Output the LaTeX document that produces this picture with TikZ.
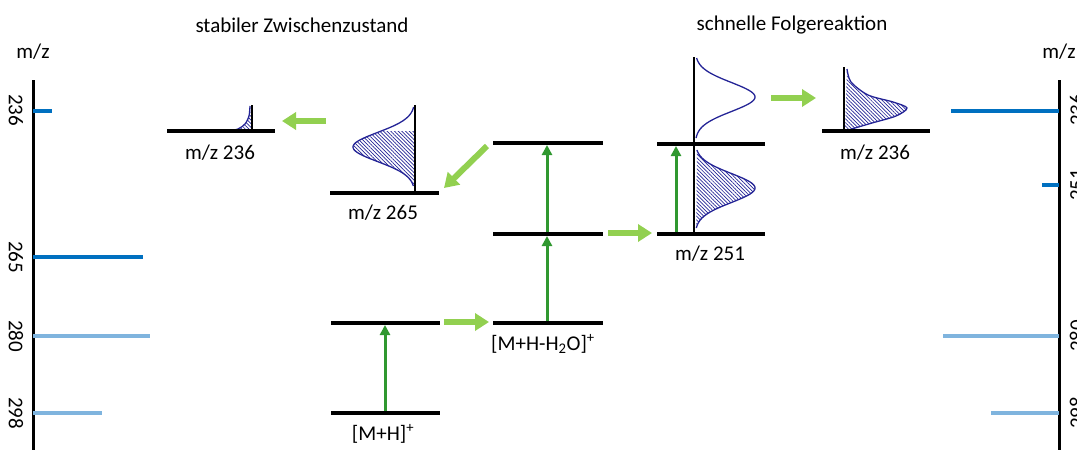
\documentclass[tikz,border=0pt]{standalone}
\usepackage{fontspec}
\setmainfont{Carlito}
\usetikzlibrary{arrows.meta,patterns.meta}
\definecolor{lgreen}{RGB}{146,208,80}
\definecolor{dgreen}{RGB}{48,152,48}
\definecolor{dblue}{RGB}{0,112,192}
\definecolor{lblue}{RGB}{127,180,222}
\definecolor{curvec}{RGB}{36,36,150}
\begin{document}
\begin{tikzpicture}[x=1pt,y=-1pt,
  font=\fontsize{21}{25}\selectfont,
  level/.style={line width=4pt},
  axisline/.style={line width=3pt},
  stem/.style={line width=2.5pt},
  bar/.style={line width=4.5pt},
  bigarrow/.style={lgreen, line width=6pt, -{Triangle[length=14pt,width=17pt]}},
  uparrow/.style={dgreen, line width=3pt, -{Triangle[length=10pt,width=10pt]}},
  gauss/.style={curvec, line width=1.3pt},
  hatch/.style={pattern={Lines[angle=-45,distance=2.6pt,line width=0.7pt]}, pattern color=curvec},
  lbl/.style={inner sep=0pt}
]
\useasboundingbox (0,0) rectangle (1077,450);
\clip (0,0) rectangle (1077,450);

% titles
\node[lbl] (t1) at (302,25) {stabiler Zwischenzustand};
\node[lbl] (t2) at (792,25) {schnelle Folgereaktion};

% left axis
\node[lbl] (mzl) at (33,52) {m/z};
\coordinate (axLt) at (33,80);
\coordinate (axLb) at (33,452);
\draw[axisline] (axLt) -- (axLb);
\draw[bar,dblue] (33,111) -- (52,111);
\draw[bar,dblue] (33,257) -- (143,257);
\draw[bar,lblue] (33,336) -- (150,336);
\draw[bar,lblue] (33,413) -- (102,413);
\node[lbl,rotate=-90] (l236) at (16,110) {236};
\node[lbl,rotate=-90] (l265) at (16,257) {265};
\node[lbl,rotate=-90] (l280) at (16,336) {280};
\node[lbl,rotate=-90] (l298) at (16,413) {298};

% right axis
\node[lbl] (mzr) at (1059,52) {m/z};
\coordinate (axRt) at (1059,80);
\coordinate (axRb) at (1059,452);
\draw[axisline] (axRt) -- (axRb);
\draw[bar,dblue] (951,111) -- (1059,111);
\draw[bar,dblue] (1042,185) -- (1059,185);
\draw[bar,lblue] (943,336) -- (1059,336);
\draw[bar,lblue] (991,413) -- (1059,413);
\node[lbl,rotate=90] (r236) at (1077,110) {236};
\node[lbl,rotate=90] (r251) at (1077,185) {251};
\node[lbl,rotate=90] (r280) at (1077,336) {280};
\node[lbl,rotate=90] (r298) at (1077,413) {298};

% level coordinates
\coordinate (A1) at (167,131); \coordinate (A2) at (275,131);
\coordinate (B1) at (330,193); \coordinate (B2) at (439,193);
\coordinate (C1) at (331,323); \coordinate (C2) at (440,323);
\coordinate (D1) at (331,413); \coordinate (D2) at (440,413);
\coordinate (E1) at (493,323); \coordinate (E2) at (603,323);
\coordinate (F1) at (493,234); \coordinate (F2) at (603,234);
\coordinate (G1) at (493,143); \coordinate (G2) at (603,143);
\coordinate (H1) at (657,234); \coordinate (H2) at (765,234);
\coordinate (I1) at (657,144); \coordinate (I2) at (765,144);
\coordinate (J1) at (822,131); \coordinate (J2) at (930,131);

% hatched areas and curves
% m/z 236 (left)
\fill[hatch] plot[smooth] coordinates {(250,106) (249,116) (245,124) (238,129) (228,131)} -- (252,131) -- cycle;
\draw[gauss] plot[smooth] coordinates {(250,106) (249,116) (245,124) (238,129) (228,131)};
% m/z 265
\fill[hatch] plot[domain=131:186,samples=50,variable=\t] ({415-62*exp(0-(\t-147)*(\t-147)/420)},\t) -- (415,186) -- (415,131) -- cycle;
\draw[gauss] plot[domain=107:186,samples=70,variable=\t] ({415-62*exp(0-(\t-147)*(\t-147)/420)},\t);
% m/z 251 upper (unhatched)
\draw[gauss] plot[domain=58:138,samples=70,variable=\t] ({695+60*exp(0-(\t-97)*(\t-97)/420)},\t);
% m/z 251 lower (hatched)
\fill[hatch] plot[domain=150:228,samples=70,variable=\t] ({695+60*exp(0-(\t-188)*(\t-188)/420)},\t) -- cycle;
\draw[gauss] plot[domain=150:228,samples=70,variable=\t] ({695+60*exp(0-(\t-188)*(\t-188)/420)},\t);
% m/z 236 (right)
\fill[hatch] plot[smooth] coordinates {(847,69) (851,82) (868,95) (893,102) (907,108) (896,116) (872,123) (855,128) (845,131)} -- cycle;
\draw[gauss] plot[smooth] coordinates {(847,69) (851,82) (868,95) (893,102) (907,108) (896,116) (872,123) (855,128) (845,131)};

% stems
\coordinate (sA) at (252,105); \draw[stem] (sA) -- (252,131);
\coordinate (sB) at (415,105); \draw[stem] (sB) -- (415,193);
\coordinate (sH) at (694,57);  \draw[stem] (sH) -- (694,234);
\coordinate (sJ) at (844,67);  \draw[stem] (sJ) -- (844,131);

% levels
\draw[level] (A1) -- (A2);
\draw[level] (B1) -- (B2);
\draw[level] (C1) -- (C2);
\draw[level] (D1) -- (D2);
\draw[level] (E1) -- (E2);
\draw[level] (F1) -- (F2);
\draw[level] (G1) -- (G2);
\draw[level] (H1) -- (H2);
\draw[level] (I1) -- (I2);
\draw[level] (J1) -- (J2);

% level labels
\node[lbl] (nA) at (220,153) {m/z 236};
\node[lbl] (nB) at (383,213) {m/z 265};
\node[lbl] (nD) at (383,434) {[M+H]\textsuperscript{+}};
\node[lbl] (nE) at (543,344) {[M+H-H\textsubscript{2}O]\textsuperscript{+}};
\node[lbl] (nH) at (710,254) {m/z 251};
\node[lbl] (nJ) at (875,153) {m/z 236};

% light green arrows
\coordinate (a1s) at (326,121); \coordinate (a1e) at (282,121);
\coordinate (a2s) at (487,146); \coordinate (a2e) at (444,188);
\coordinate (a3s) at (444,322); \coordinate (a3e) at (489,322);
\coordinate (a4s) at (608,233); \coordinate (a4e) at (652,233);
\coordinate (a5s) at (771,98);  \coordinate (a5e) at (816,98);
\draw[bigarrow] (a1s) -- (a1e);
\draw[bigarrow] (a2s) -- (a2e);
\draw[bigarrow] (a3s) -- (a3e);
\draw[bigarrow] (a4s) -- (a4e);
\draw[bigarrow] (a5s) -- (a5e);

% dark green arrows
\coordinate (u1s) at (385,411); \coordinate (u1e) at (385,325);
\coordinate (u2s) at (547,321); \coordinate (u2e) at (547,236);
\coordinate (u3s) at (547,232); \coordinate (u3e) at (547,145);
\coordinate (u4s) at (676,232); \coordinate (u4e) at (676,146);
\draw[uparrow] (u1s) -- (u1e);
\draw[uparrow] (u2s) -- (u2e);
\draw[uparrow] (u3s) -- (u3e);
\draw[uparrow] (u4s) -- (u4e);
\end{tikzpicture}
\end{document}
